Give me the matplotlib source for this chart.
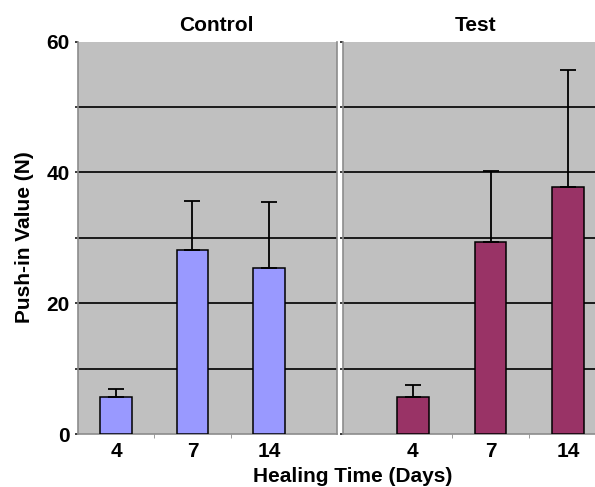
import matplotlib
matplotlib.use("Agg")
import matplotlib.pyplot as plt
import numpy as np

plt.rcParams['font.family'] = ['Liberation Sans', 'DejaVu Sans']
plt.rcParams['font.weight'] = 'bold'

categories = ["4", "7", "14"]
control_mean = [5.6, 28.1, 25.4]
control_err = [1.3, 7.6, 10.1]
test_mean = [5.7, 29.3, 37.8]
test_err = [1.8, 11.0, 17.9]
panel_titles = ["Control", "Test"]

W, H = 595, 487
fig = plt.figure(figsize=(W / 100, H / 100), dpi=100)

bg = "#c0c0c0"
spine_col = "#8c8c8c"
FS = 15

def fx(px):
    return px / W

def fy(py):
    return 1 - py / H

ax_l = fig.add_axes([fx(78), fy(434), fx(337) - fx(78), fy(41.7) - fy(434)])
ax_r = fig.add_axes([fx(343), fy(434), fx(600) - fx(343), fy(41.7) - fy(434)])

x = np.arange(len(categories))
for ax, means, errs, col, xlim in [
    (ax_l, control_mean, control_err, "#9999ff", (-0.497, 2.89)),
    (ax_r, test_mean, test_err, "#993366", (-0.90, 2.41)),
]:
    ax.set_facecolor(bg)
    ax.bar(x, means, width=0.41, color=col, edgecolor="black", linewidth=1.1, zorder=3)
    ax.errorbar(x, means, yerr=[np.zeros(len(errs)), errs], fmt="none",
                ecolor="black", elinewidth=1.3, capsize=5.5, capthick=1.3, zorder=4)
    ax.set_xlim(*xlim)
    ax.set_ylim(0, 60)
    ax.set_yticks(np.arange(0, 61, 10))
    ax.yaxis.grid(True, color="#1a1a1a", linewidth=1.4, zorder=1)
    ax.set_axisbelow(True)
    gl = ax.get_ygridlines()
    gl[-1].set_visible(False)
    gl[0].set_visible(False)
    ax.set_xticks(x)
    ax.set_xticklabels(categories, fontsize=FS, fontweight="bold")
    ax.set_xticks([0.5, 1.5], minor=True)
    ax.tick_params(axis="x", which="major", length=0, pad=6)
    ax.tick_params(axis="x", which="minor", length=3, color=spine_col, direction="out")
    ax.tick_params(axis="y", length=2.2, color="#1a1a1a", width=1.2, pad=4)
    ax.spines["top"].set_visible(False)
    for s in ["left", "bottom", "right"]:
        ax.spines[s].set_color(spine_col)
        ax.spines[s].set_linewidth(1.2)

ax_l.set_yticklabels(["0", "", "20", "", "40", "", "60"], fontsize=FS, fontweight="bold")
ax_r.set_yticklabels([])
ax_r.spines["right"].set_visible(False)

fig.text(fx(216), fy(31), panel_titles[0], ha="center", va="baseline", fontsize=FS, fontweight="bold")
fig.text(fx(476), fy(31), panel_titles[1], ha="center", va="baseline", fontsize=FS, fontweight="bold")
fig.text(fx(25), fy(237.5), "Push-in Value (N)", rotation=90, ha="center", va="center",
         fontsize=FS, fontweight="bold")
fig.text(fx(353), fy(486), "Healing Time (Days)", ha="center", va="bottom",
         fontsize=FS, fontweight="bold")

fig.savefig("out.png", dpi=100, facecolor="white")
